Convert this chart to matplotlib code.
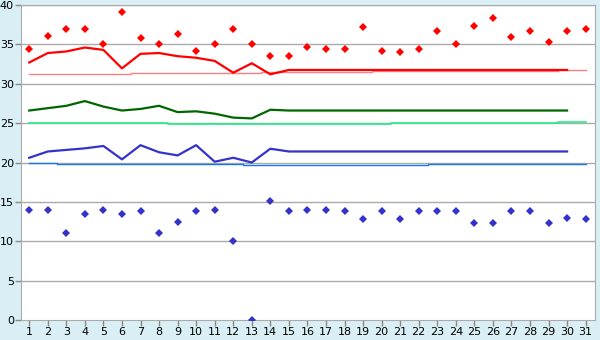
import numpy as np
import matplotlib.pyplot as plt

days = np.arange(1, 32)

# daily max / min
tmax = [34.4, 36.1, 36.9, 36.9, 35.0, 39.1, 35.8, 35.0, 36.3, 34.1,
        35.0, 37.0, 35.0, 33.5, 33.5, 34.7, 34.4, 34.4, 37.2, 34.2,
        34.0, 34.4, 36.7, 35.0, 37.3, 38.4, 35.9, 36.7, 35.3, 36.7, 37.0]
tmin = [14.0, 14.0, 11.0, 13.5, 14.0, 13.5, 13.9, 11.0, 12.5, 13.9,
        14.0, 10.0, 0.0, 15.1, 13.9, 14.0, 14.0, 13.9, 12.8, 13.9,
        12.8, 13.9, 13.9, 13.9, 12.3, 12.3, 13.9, 13.9, 12.3, 13.0, 12.8]

# running averages (day 1..30)
avg_max = [32.7, 33.9, 34.1, 34.6, 34.3, 31.95, 33.8, 33.9, 33.5, 33.3,
           32.9, 31.4, 32.6, 31.2, 31.75] + [31.75] * 15
avg_mean = [26.6, 26.9, 27.2, 27.8, 27.1, 26.6, 26.8, 27.2, 26.4, 26.5,
            26.2, 25.7, 25.6, 26.7, 26.6] + [26.6] * 15
avg_min = [20.6, 21.4, 21.6, 21.8, 22.1, 20.4, 22.2, 21.3, 20.9, 22.2,
           20.1, 20.6, 20.0, 21.75, 21.4] + [21.4] * 15

# normals (day 1..31)
norm_max = [31.2] * 6 + [31.33] * 7 + [31.5] * 6 + [31.6] * 10 + [31.7] * 2
norm_mean = [25.0] * 8 + [24.9] * 12 + [25.0] * 9 + [25.1] * 2
norm_min = [20.0] * 2 + [19.77] * 10 + [19.64] * 10 + [19.77] * 9

bg = '#daeff5'
grid = '#aaaaaa'

fig = plt.figure(figsize=(6, 3.4), dpi=100, facecolor=bg)
ax = fig.add_axes([0.0345, 0.0588, 0.957, 0.9265])
ax.set_facecolor('white')

for y in range(5, 41, 5):
    ax.axhline(y, color=grid, lw=1, zorder=1)

ax.plot(days, norm_max, color='#ff8080', lw=1, drawstyle='steps-mid', zorder=2)
ax.plot(days, norm_mean, color='#22ee88', lw=1.2, drawstyle='steps-mid', zorder=2)
ax.plot(days, norm_min, color='#1177ee', lw=1, drawstyle='steps-mid', zorder=2)

d30 = days[:30]
ax.plot(d30, avg_max, color='#ff0000', lw=1.6, zorder=3)
ax.plot(d30, avg_mean, color='#006600', lw=1.6, zorder=3)
ax.plot(d30, avg_min, color='#3333cc', lw=1.6, zorder=3)

ax.plot(days, tmax, 'D', color='#ff0000', ms=4.3, mew=0, ls='none', zorder=4)
ax.plot(days, tmin, 'D', color='#3333cc', ms=4.3, mew=0, ls='none', zorder=4)

ax.set_xlim(0.54, 31.5)
ax.set_ylim(0, 40)
ax.set_xticks(days)
ax.set_yticks(range(0, 41, 5))
ax.tick_params(colors='#888888', labelcolor='black', labelsize=8, length=4, width=1, pad=1)
for s in ax.spines.values():
    s.set_color(grid)

fig.savefig('out.png', dpi=100, facecolor=bg)
